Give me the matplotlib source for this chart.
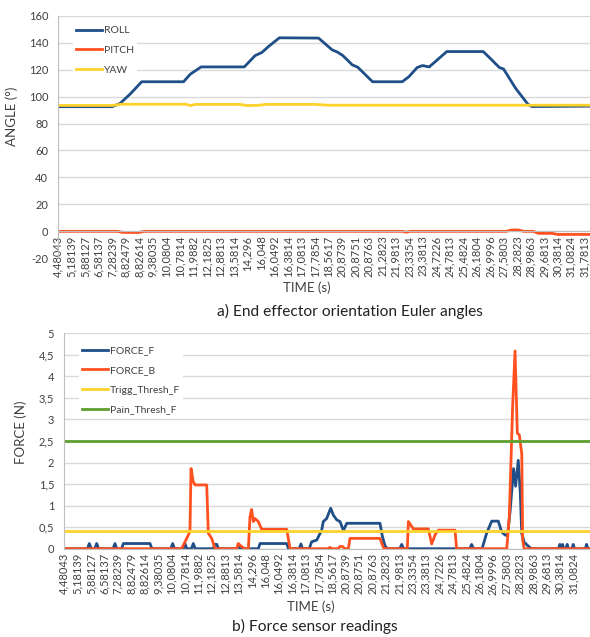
import matplotlib
matplotlib.use("Agg")
import matplotlib.pyplot as plt

plt.rcParams['font.family'] = ['Lato', 'DejaVu Sans']
plt.rcParams['axes.unicode_minus'] = False

# ---------------- data (x = sample index on the category axis, 10 samples per label) -------------
TOP_TICK_LABELS = ["4,48043", "5,18139", "5,88127", "6,58137", "7,28239", "8,82479", "8,82614",
                   "9,38035", "10,0804", "10,7814", "11,9882", "12,1825", "12,8813", "13,5814",
                   "14,296", "16,048", "16,0492", "16,3814", "17,0813", "17,7854", "18,5617",
                   "20,8739", "20,8751", "20,8763", "21,2823", "21,9813", "23,3354", "23,3813",
                   "24,7226", "24,7813", "25,4824", "26,1804", "26,9996", "27,5803", "28,2823",
                   "28,9863", "29,6813", "30,3814", "31,0824", "31,7813"]
BOT_TICK_LABELS = TOP_TICK_LABELS[:39]
SAMPLES_PER_LABEL = 10

ROLL_X = [0, 40, 46, 54, 62, 93, 98, 106, 138, 146, 151, 156, 164, 193, 203, 207, 211, 218, 222,
          233, 255, 260, 266, 270, 275, 288, 315, 320, 327, 330, 339, 348, 351, 395]
ROLL_Y = [92.5, 92.5, 94.9, 102.4, 111.0, 111.0, 116.6, 122.0, 122.0, 130.4, 132.7, 137.2, 143.6,
          143.4, 134.7, 133.0, 130.4, 123.5, 121.8, 111.0, 111.0, 114.8, 121.5, 123.0, 122.0,
          133.4, 133.4, 128.5, 121.5, 120.5, 106.1, 94.4, 92.6, 92.9]

PITCH_X = [0, 44, 48, 60, 64, 255, 258, 261, 332, 336, 341, 345, 352, 356, 366, 370, 395]
PITCH_Y = [0, 0, -0.8, -0.8, 0, 0, -0.6, 0, 0, 1.0, 1.0, 0, 0, -1.5, -1.5, -2.3, -2.3]

YAW_X = [0, 40, 47, 95, 98, 102, 135, 140, 148, 154, 190, 200, 395]
YAW_Y = [93.4, 93.4, 94.3, 94.3, 93.3, 94.2, 94.2, 93.3, 93.5, 94.2, 94.2, 93.6, 93.6]

FORCE_F_X = [0, 17.5, 18.9, 20.3, 23, 24.4, 25.8, 36.6, 38, 39.4, 43, 44.3, 64.2, 65.6, 79.7, 81.1,
             82.5, 89, 90.3, 91.6, 95.1, 96.5, 97.9, 111.3, 112.5, 114, 115.3, 129, 130.3, 131.6,
             145, 146.3, 166.2, 167.5, 175.5, 176.8, 178, 183, 184.8, 188.6, 192.3, 193.5, 196,
             199, 201, 203.5, 206, 208.5, 211, 235.8, 237.5, 239.6, 241.5, 250.6, 252, 253.4,
             302.8, 304.2, 305.6, 312, 315.4, 319.2, 324.1, 326.6, 329.1, 331, 333, 335.5, 337,
             339, 340.5, 341.6, 343.4, 346.5, 348.8, 369, 370, 371, 372, 373, 374.5, 375.5, 376.5,
             379, 380, 381, 389, 390, 391, 393]
FORCE_F_Y = [0, 0, 0.12, 0, 0, 0.12, 0, 0, 0.12, 0, 0, 0.12, 0.12, 0, 0, 0.12,
             0, 0, 0.12, 0, 0, 0.12, 0, 0, 0.1, 0.1, 0, 0, 0.08, 0,
             0, 0.12, 0.12, 0, 0, 0.11, 0, 0, 0.16, 0.2, 0.43, 0.63, 0.7,
             0.94, 0.78, 0.67, 0.63, 0.42, 0.59, 0.59, 0.3, 0.06, 0, 0, 0.1, 0,
             0, 0.1, 0, 0, 0.36, 0.64, 0.64, 0.39, 0.32, 0.3, 0.9, 1.86, 1.45,
             2.05, 1.3, 0.35, 0.15, 0.06, 0, 0, 0.1, 0.03, 0.1, 0, 0, 0.1, 0,
             0, 0.1, 0, 0, 0.1, 0, 0]

FORCE_B_X = [0, 87.8, 90.3, 92.8, 94, 94.8, 96.5, 97.8, 106.5, 107.7, 110.2, 112.7, 128.9, 130,
             132.5, 135, 137.6, 138.8, 140, 141.3, 142.5, 145, 147.5, 166.2, 168.7, 197, 198.5,
             200, 204.5, 206, 208, 209.5, 212.2, 213.4, 235.8, 238.3, 240, 256.2, 257, 260.7,
             271.9, 274.4, 276.9, 279.3, 291.8, 293, 330.4, 332.3, 334.8, 336.6, 338.3, 339.8,
             341.6, 342.3, 343.4, 393]
FORCE_B_Y = [0, 0, 0.16, 0.32, 0.4, 1.86, 1.55, 1.48, 1.48, 0.36, 0.24, 0, 0, 0.12,
             0.05, 0, 0, 0.74, 0.91, 0.63, 0.7, 0.63, 0.45, 0.45, 0, 0, 0.03,
             0, 0, 0.05, 0.05, 0, 0, 0.24, 0.24, 0.03, 0, 0, 0.63, 0.46,
             0.46, 0.11, 0.32, 0.43, 0.43, 0, 0, 0.74, 3.3, 4.59, 2.68, 2.64,
             2.21, 0.2, 0, 0]

TRIGG_THRESH_F = 0.4
PAIN_THRESH_F = 2.5

TOP_YTICKS = [-20, 0, 20, 40, 60, 80, 100, 120, 140, 160]
BOT_YTICKS = [0, 0.5, 1, 1.5, 2, 2.5, 3, 3.5, 4, 4.5, 5]
BOT_YTICK_LABELS = ["0", "0,5", "1", "1,5", "2", "2,5", "3", "3,5", "4", "4,5", "5"]

# ---------------- style ----------------
BLUE = "#1F4E88"
ORANGE = "#FF5020"
YELLOW = "#FFD22B"
GREEN = "#5E9E2F"
GRID = "#D9D9D9"
TXT = "#404040"
LW = 2.0

W, H = 590, 637
fig = plt.figure(figsize=(W / 100, H / 100), dpi=100)


def style_axes(ax):
    ax.grid(axis='y', color=GRID, linewidth=1.0)
    ax.set_axisbelow(True)
    for s in ['top', 'right']:
        ax.spines[s].set_visible(False)
    ax.spines['left'].set_color('#BFBFBF')
    ax.spines['bottom'].set_color('#BFBFBF')
    ax.spines['bottom'].set_position(('data', 0))
    ax.tick_params(axis='both', length=0, colors=TXT)
    ax.tick_params(axis='x', labelsize=8, rotation=90, pad=3)
    ax.tick_params(axis='y', labelsize=8, pad=7)


def make_legend(ax, handles, x, y):
    leg = ax.legend(handles=handles, loc='upper left',
                    bbox_to_anchor=(x / W, 1 - y / H), bbox_transform=fig.transFigure,
                    fontsize=7.5, handlelength=2.5, handletextpad=0.15, labelspacing=1.0,
                    borderpad=0.3, borderaxespad=0, frameon=True, fancybox=False)
    leg.get_frame().set_facecolor('white')
    leg.get_frame().set_edgecolor('none')
    leg.get_frame().set_alpha(1)
    for t in leg.get_texts():
        t.set_color(TXT)
    return leg


# ---------------- top chart ----------------
ax1 = fig.add_axes([58 / W, 1 - 258.3 / H, 1 - 58 / W, (258.3 - 15.7) / H])
l1, = ax1.plot(ROLL_X, ROLL_Y, color=BLUE, lw=LW, label="ROLL", solid_joinstyle='round')
l2, = ax1.plot(PITCH_X, PITCH_Y, color=ORANGE, lw=LW, label="PITCH", solid_joinstyle='round')
l3, = ax1.plot(YAW_X, YAW_Y, color=YELLOW, lw=LW, label="YAW", solid_joinstyle='round')
ax1.set_xlim(0, (W - 58) / 1.35)
ax1.set_ylim(-20, 160)
ax1.set_yticks(TOP_YTICKS)
ax1.set_xticks([i * SAMPLES_PER_LABEL for i in range(len(TOP_TICK_LABELS))])
ax1.set_xticklabels(TOP_TICK_LABELS)
style_axes(ax1)
ax1.set_ylabel("ANGLE (°)", fontsize=9.5, color=TXT)
ax1.yaxis.set_label_coords((18 - 58) / (W - 58), (258.3 - 116) / 242.6)
make_legend(ax1, [l1, l2, l3], 73, 23)

fig.text(307 / W, 1 - 288 / H, "TIME (s)", ha='center', va='center', fontsize=9.5, color=TXT)
fig.text(350 / W, 1 - 311 / H, "a) End effector orientation Euler angles", ha='center',
         va='center', fontsize=11.2, color='#222222')

# ---------------- bottom chart ----------------
ax2 = fig.add_axes([64 / W, 1 - 548.7 / H, 1 - 64 / W, (548.7 - 333.3) / H])
m1, = ax2.plot(FORCE_F_X, FORCE_F_Y, color=BLUE, lw=LW, label="FORCE_F", solid_joinstyle='round')
m2, = ax2.plot(FORCE_B_X, FORCE_B_Y, color=ORANGE, lw=LW, label="FORCE_B", solid_joinstyle='round')
m3 = ax2.axhline(TRIGG_THRESH_F, color=YELLOW, lw=LW, label="Trigg_Thresh_F")
m4 = ax2.axhline(PAIN_THRESH_F, color=GREEN, lw=LW, label="Pain_Thresh_F")
ax2.set_xlim(0, (W - 64) / 1.34)
ax2.set_ylim(0, 5)
ax2.set_yticks(BOT_YTICKS)
ax2.set_yticklabels(BOT_YTICK_LABELS)
ax2.set_xticks([i * SAMPLES_PER_LABEL for i in range(len(BOT_TICK_LABELS))])
ax2.set_xticklabels(BOT_TICK_LABELS)
style_axes(ax2)
ax2.set_ylabel("FORCE (N)", fontsize=9.5, color=TXT)
ax2.yaxis.set_label_coords((27 - 64) / (W - 64), (548.7 - 432) / 215.4)
make_legend(ax2, [m1, m2, m3, m4], 79, 343)

fig.text(311 / W, 1 - 607 / H, "TIME (s)", ha='center', va='center', fontsize=9.5, color=TXT)
fig.text(315 / W, 1 - 626 / H, "b) Force sensor readings", ha='center', va='center',
         fontsize=11.2, color='#222222')

fig.savefig("out.png", dpi=100, facecolor='white')
